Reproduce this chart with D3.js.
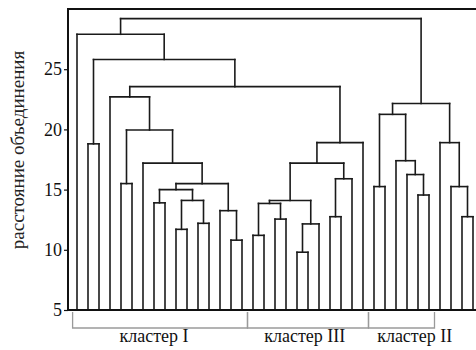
<!DOCTYPE html>
<html><head><meta charset="utf-8">
<script src="https://cdn.jsdelivr.net/npm/d3@7"></script>
<style>body{margin:0;background:#fff}svg{display:block}</style>
</head><body><svg id="c" width="476" height="350"></svg>
<script>
// ---- data ----
const leaves = d3.range(37).map(i => "L" + i);
const mergeIds    = ["N1","N2","N3","N4","N5","N6","N7","N8","N9","N10","N11","N12","N13","N14","N15","N16","N17","N18","N19","N20","N21","N22","N23","N24","N25","N26","N27","N28","N29","N30","N31","N32","N33","N34","N35","N36"];
const mergeLeft   = ["L14","L20","L9","L16","L11","N2","L18","L23","L35","L13","N4","L7","N3","N11","L31","N12","L27","L34","L4","N16","N8","L30","L6","N14","L29","L1","N24","L33","N19","N17","N30","L3","N32","N26","L0","N35"];
const mergeRight  = ["L15","L21","L10","L17","L12","L22","L19","L24","L36","N1","N7","L8","N5","N6","L32","N13","L28","N9","L5","N10","L25","N15","N20","N21","N22","L2","L26","N18","N23","N25","N28","N29","N27","N33","N34","N31"];
const mergeHeight = [10.8,9.8,11.7,11.2,12.2,12.15,12.55,12.75,12.75,13.25,13.85,13.9,14.1,14.1,14.55,15.0,15.25,15.25,15.5,15.5,15.9,16.25,17.2,17.2,17.4,18.8,18.9,18.9,19.95,21.25,22.15,22.7,23.55,25.8,27.9,29.2];
const yTicks = [5, 10, 15, 20, 25];
const yDomain = [5, 30];
const clusterNames = ["кластер I", "кластер III", "кластер II"];
const clusterFrom  = [-0.4, 15.5, 26.5];   // leaf-index span of each bracket
const clusterTo    = [15.5, 26.5, 32.5];
const yLabel = "расстояние объединения";

// ---- layout ----
const svg = d3.select("#c");
const mLeft = 68, mRight = 476, mTop = 9, mBottom = 310;
const x = d3.scalePoint().domain(leaves).range([77, 473]);
const xi = d3.scaleLinear().domain([0, leaves.length - 1]).range([77, 473]);
const y = d3.scaleLinear().domain(yDomain).range([mBottom, mTop]);

const pos = {};
leaves.forEach(l => pos[l] = {x: x(l), h: yDomain[0]});
mergeIds.forEach((id, i) => {
  const a = pos[mergeLeft[i]], b = pos[mergeRight[i]];
  pos[id] = {x: (a.x + b.x) / 2, h: mergeHeight[i]};
});

const segs = [];
mergeIds.forEach((id, i) => {
  const a = pos[mergeLeft[i]], b = pos[mergeRight[i]], h = mergeHeight[i];
  segs.push([a.x, y(a.h), a.x, y(h)]);
  segs.push([b.x, y(b.h), b.x, y(h)]);
  segs.push([a.x, y(h), b.x, y(h)]);
});
svg.append("g").selectAll("line").data(segs).join("line")
  .attr("x1", d => d[0]).attr("y1", d => d[1]).attr("x2", d => d[2]).attr("y2", d => d[3])
  .attr("stroke", "#1a1a1a").attr("stroke-width", 1.6).attr("stroke-linecap", "square");

// frame
const fr = svg.append("g").attr("stroke", "#111").attr("stroke-width", 2).attr("fill", "none");
fr.append("path").attr("d", `M${mRight},${y(yDomain[1])}H${mLeft}V${mBottom}H${mRight}`);

// y axis
const ax = svg.append("g").attr("transform", `translate(${mLeft},0)`)
  .call(d3.axisLeft(y).tickValues(yTicks).tickSize(4).tickPadding(2));
ax.select(".domain").remove();
ax.selectAll("line").attr("stroke", "#111").attr("stroke-width", 1.2);
ax.selectAll("text").attr("font-family", "'Liberation Serif', serif").attr("font-size", 18).attr("fill", "#111");

// y label
svg.append("text").attr("transform", "translate(24,150) rotate(-90)")
  .attr("text-anchor", "middle").attr("font-family", "'Liberation Serif', serif")
  .attr("font-size", 19).attr("fill", "#222").text(yLabel);

// cluster brackets
const bt = 312, bb = 328;
const br = svg.append("g").attr("stroke", "#9a9a9a").attr("stroke-width", 1.3).attr("fill", "none");
clusterNames.forEach((n, i) => {
  br.append("path").attr("d", `M${xi(clusterFrom[i])},${bt}V${bb}H${xi(clusterTo[i])}V${bt}`);
});
const labelAt = [7.0, 20.7, 30.7];
svg.append("g").selectAll("text").data(clusterNames).join("text")
  .attr("x", (d, i) => xi(labelAt[i])).attr("y", 342)
  .attr("text-anchor", "middle").attr("font-family", "'Liberation Serif', serif")
  .attr("font-size", 18).attr("fill", "#111").text(d => d);
</script></body></html>
